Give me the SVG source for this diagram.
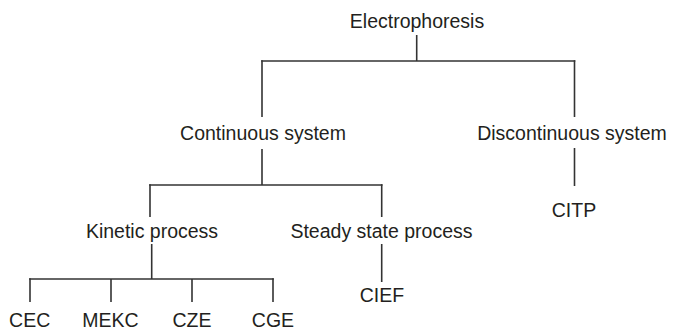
<svg xmlns="http://www.w3.org/2000/svg" width="673" height="329" viewBox="0 0 673 329">
<style>
text{font-family:"Liberation Sans",Arial,sans-serif;font-size:19.5px;fill:#231f20;text-anchor:middle}
.c line{stroke:#333;stroke-width:1.6;fill:none}
</style>
<rect width="673" height="329" fill="#fff"/>
<g class="c" id="connectors">
<line x1="416.7" y1="35" x2="416.7" y2="61"/>
<line x1="261.2" y1="61" x2="575.3" y2="61"/>
<line x1="262" y1="60.2" x2="262" y2="117"/>
<line x1="574.5" y1="60.2" x2="574.5" y2="117"/>
<line x1="262" y1="149" x2="262" y2="185"/>
<line x1="149.2" y1="185" x2="382.5" y2="185"/>
<line x1="150" y1="184.2" x2="150" y2="217"/>
<line x1="381.7" y1="184.2" x2="381.7" y2="217"/>
<line x1="574.5" y1="148" x2="574.5" y2="186"/>
<line x1="151.7" y1="244" x2="151.7" y2="279"/>
<line x1="29.2" y1="279" x2="273.8" y2="279"/>
<line x1="30" y1="278.2" x2="30" y2="302"/>
<line x1="111" y1="279" x2="111" y2="302"/>
<line x1="192" y1="279" x2="192" y2="302"/>
<line x1="273" y1="278.2" x2="273" y2="302"/>
<line x1="381.7" y1="244" x2="381.7" y2="282"/>
</g>
<g id="electrophoresis"><text x="417" y="28.3">Electrophoresis</text></g>
<g id="continuous"><text x="263" y="140">Continuous system</text></g>
<g id="discontinuous"><text x="572" y="139.5">Discontinuous system</text></g>
<g id="kinetic"><text x="152" y="238">Kinetic process</text></g>
<g id="steady"><text x="381.5" y="238">Steady state process</text></g>
<g id="citp"><text x="574" y="216.7">CITP</text></g>
<g id="cief"><text x="382" y="301.7">CIEF</text></g>
<g id="cec"><text x="29.7" y="326.7">CEC</text></g>
<g id="mekc"><text x="110.5" y="326.7">MEKC</text></g>
<g id="cze"><text x="192" y="326.7">CZE</text></g>
<g id="cge"><text x="273" y="326.7">CGE</text></g>
</svg>
